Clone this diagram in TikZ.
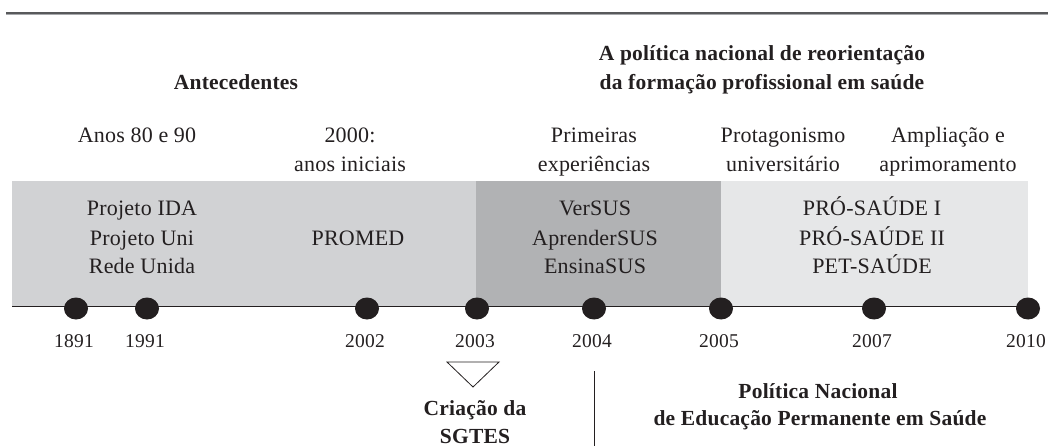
\documentclass[tikz,border=0pt]{standalone}
\usepackage{fontspec}
\setmainfont{Liberation Serif}[LetterSpace=1]
\usetikzlibrary{shapes.geometric}
\definecolor{ink}{HTML}{231F20}
\definecolor{bandA}{HTML}{D1D2D4}
\definecolor{bandB}{HTML}{B1B2B4}
\definecolor{bandC}{HTML}{E6E7E8}
\definecolor{ruleD}{HTML}{58595B}
\definecolor{ruleL}{HTML}{A7A9AC}
\tikzset{
  txt/.style={inner sep=0pt, anchor=base, text=ink, font=\fontsize{22}{26}\selectfont},
  hdr/.style={txt, font=\fontsize{21.5}{26}\selectfont\bfseries},
  yr/.style={txt, font=\fontsize{19.5}{23}\selectfont},
  dot/.style={ellipse, fill=ink, draw=none, minimum width=24pt, minimum height=22pt, inner sep=0pt},
  axis/.style={draw=ink, line width=1.5pt},
  thinline/.style={draw=ink, line width=0.8pt}
}
\begin{document}
\begin{tikzpicture}[x=1pt,y=-1pt]
\useasboundingbox (0,0) rectangle (1048,446);
% top rule
\draw[ruleD, line width=1.3pt] (6,13) -- (1048,13);
\draw[ruleL, line width=1pt] (6,14.6) -- (1048,14.6);
% bands
\fill[bandA] (12,181) rectangle (476,306);
\fill[bandB] (476,181) rectangle (721,306);
\fill[bandC] (721,181) rectangle (1028,306);
% headings
\node[hdr] (hAnt) at (236,90) {Antecedentes};
\node[hdr] (hPol1) at (762,61) {A política nacional de reorientação};
\node[hdr] (hPol2) at (762,90) {da formação profissional em saúde};
% period labels
\node[txt] (pA) at (137,143) {Anos 80 e 90};
\node[txt] (pB1) at (350,143) {2000:};
\node[txt] (pB2) at (350,172) {anos iniciais};
\node[txt] (pC1) at (594,143) {Primeiras};
\node[txt] (pC2) at (594,172) {experiências};
\node[txt] (pD1) at (783,143) {Protagonismo};
\node[txt] (pD2) at (783,172) {universitário};
\node[txt] (pE1) at (948,143) {Ampliação e};
\node[txt] (pE2) at (948,172) {aprimoramento};
% band contents
\node[txt] (bA1) at (142,216) {Projeto IDA};
\node[txt] (bA2) at (142,245) {Projeto Uni};
\node[txt] (bA3) at (142,273) {Rede Unida};
\node[txt] (bB) at (358,245) {PROMED};
\node[txt] (bC1) at (595,216) {VerSUS};
\node[txt] (bC2) at (595,245) {AprenderSUS};
\node[txt] (bC3) at (595,273) {EnsinaSUS};
\node[txt] (bD1) at (872,216) {PRÓ-SAÚDE I};
\node[txt] (bD2) at (872,245) {PRÓ-SAÚDE II};
\node[txt] (bD3) at (872,273) {PET-SAÚDE};
% timeline
\coordinate (tlL) at (12,306.5);
\coordinate (tlR) at (1036,306.5);
\draw[axis] (tlL) -- (tlR);
\foreach \yy/\xx in {1891/76,1991/147,2002/367,2003/477,2004/594,2005/721,2007/874,2010/1028}{
  \node[dot] (d\yy) at (\xx,308.5) {};
  \node[yr] (y\yy) at (\xx-2,347) {\yy};
}
% SGTES marker
\draw[thinline] (447,362) -- (499,362) -- (473,387) -- cycle;
\node[hdr] (sg1) at (475,415) {Criação da};
\node[hdr] (sg2) at (475,443) {SGTES};
% PNEPS
\coordinate (vTop) at (594,371);
\coordinate (vBot) at (594,446);
\draw[thinline] (vTop) -- (vBot);
\node[hdr] (pn1) at (818,398) {Política Nacional};
\node[hdr] (pn2) at (820,425) {de Educação Permanente em Saúde};
\end{tikzpicture}
\end{document}
